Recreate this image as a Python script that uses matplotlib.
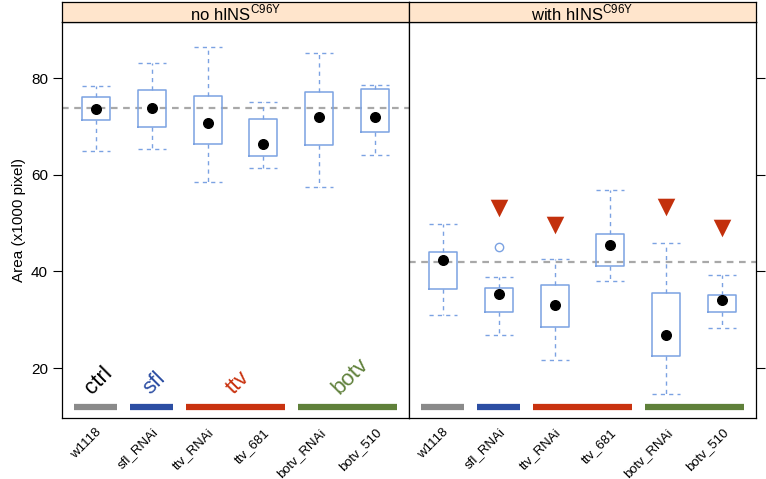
import matplotlib.pyplot as plt
from matplotlib.patches import Rectangle

plt.rcParams['font.family'] = ['Liberation Sans', 'DejaVu Sans']

genotypes = ['w1118', 'sfl_RNAi', 'ttv_RNAi', 'ttv_681', 'botv_RNAi', 'botv_510']
panels = ['no hINS$^{\\mathregular{C96Y}}$', 'with hINS$^{\\mathregular{C96Y}}$']

# box stats per panel: whisker low, q1, median, q3, whisker high
no_lo = [64.9, 65.4, 58.5, 61.5, 57.5, 64.2]
no_q1 = [71.3, 70.0, 66.3, 63.9, 66.1, 68.8]
no_med = [73.6, 73.8, 70.7, 66.3, 71.9, 71.9]
no_q3 = [76.2, 77.5, 76.4, 71.5, 77.1, 77.8]
no_hi = [78.3, 83.1, 86.5, 75.0, 85.3, 78.6]
no_out = [[], [], [], [], [], []]

with_lo = [31.0, 26.8, 21.7, 38.1, 14.7, 28.2]
with_q1 = [36.3, 31.5, 28.4, 41.1, 22.5, 31.7]
with_med = [42.3, 35.3, 33.0, 45.5, 26.8, 34.1]
with_q3 = [44.0, 36.6, 37.2, 47.8, 35.5, 35.2]
with_hi = [49.9, 38.8, 42.6, 56.8, 45.9, 39.2]
with_out = [[], [45.0], [], [], [], []]

ref_lines = [73.8, 42.0]

# significance markers (right panel)
sig_idx = [2, 3, 5, 6]
sig_y = [53.1, 49.7, 53.4, 49.0]

# gene groups drawn along the bottom
groups = ['ctrl', 'sfl', 'ttv', 'botv']
group_span = [(1, 1), (2, 2), (3, 4), (5, 6)]
group_col = ['#8a8a8a', '#2c4ea3', '#c9320f', '#5f803a']
label_col = ['black', '#2c4ea3', '#c9320f', '#5f803a']

box_col = '#7ba2e2'
fig = plt.figure(figsize=(7.66, 4.79), dpi=100)

data = [(no_lo, no_q1, no_med, no_q3, no_hi, no_out),
        (with_lo, with_q1, with_med, with_q3, with_hi, with_out)]

x0, w = 62 / 766, 347 / 766
bot, h = 1 - 418 / 479, 396 / 479
sh = 20 / 479
pos = list(range(1, len(genotypes) + 1))

for p in range(2):
    ax = fig.add_axes([x0 + p * w, bot, w, h])
    lo, q1, med, q3, hi, out = data[p]
    stats = [dict(whislo=lo[i], q1=q1[i], med=med[i], q3=q3[i], whishi=hi[i],
                  fliers=out[i]) for i in range(len(genotypes))]
    ax.axhline(ref_lines[p], color='#a8a8a8', lw=1.6, ls=(0, (3, 2.5)), zorder=1)
    ax.bxp(stats, positions=pos, widths=0.5, capwidths=0.5, showfliers=True,
           boxprops=dict(color=box_col, lw=1.1),
           whiskerprops=dict(color=box_col, lw=1.0, ls=(0, (3, 3))),
           capprops=dict(color=box_col, lw=1.0, ls=(0, (3, 3))),
           medianprops=dict(visible=False),
           flierprops=dict(marker='o', mfc='none', mec=box_col, ms=6, mew=1.0))
    ax.scatter(pos, med, s=48, color='black', zorder=4)

    # group bars
    for (a, b), c in zip(group_span, group_col):
        ax.plot([a - 0.38, b + 0.38], [11.85, 11.85], color=c, lw=4.5,
                solid_capstyle='butt', zorder=3)
    if p == 0:
        for g, (a, b), c in zip(groups, group_span, label_col):
            ax.text((a + b) / 2 + 0.05, 13.6, g, color=c, fontsize=16, rotation=45,
                    ha='center', va='bottom')
    else:
        ax.scatter(sig_idx, sig_y, marker='v', s=160, color='#c3300c', zorder=4,
                   linewidths=0)

    ax.set_xlim(0.4, 6.6)
    ax.set_ylim(9.65, 91.65)
    ax.set_yticks([20, 40, 60, 80])
    ax.set_xticks(pos)
    ax.set_xticklabels(genotypes, rotation=45, ha='right', rotation_mode='anchor',
                       fontsize=9.5)
    ax.tick_params(axis='x', length=0, pad=6)
    if p == 0:
        ax.tick_params(axis='y', direction='out', length=6.5, labelsize=11)
        ax.set_ylabel('Area (x1000 pixel)', fontsize=11, labelpad=4)
    else:
        ax.tick_params(axis='y', left=False, labelleft=False, right=True,
                       direction='out', length=6.5)
    for s in ax.spines.values():
        s.set_linewidth(0.9)

    # strip
    sax = fig.add_axes([x0 + p * w, bot + h, w, sh])
    sax.add_patch(Rectangle((0, 0), 1, 1, transform=sax.transAxes,
                            facecolor='#ffe5cc', edgecolor='none'))
    sax.set_xticks([])
    sax.set_yticks([])
    for s in sax.spines.values():
        s.set_linewidth(0.9)
    sax.text(0.5, 0.45, panels[p], ha='center', va='center', fontsize=12,
             transform=sax.transAxes)

fig.savefig('out.png', dpi=100)
